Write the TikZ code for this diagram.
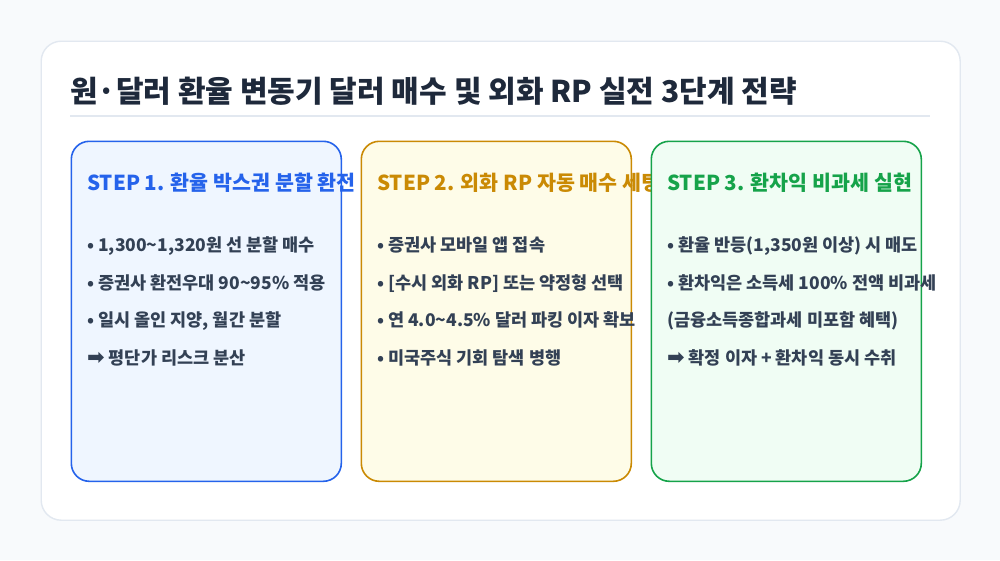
\documentclass[tikz,border=0pt]{standalone}
\usepackage{fontspec}
\setmainfont{Noto Sans CJK KR}
\newfontfamily\arrowfont{DejaVu Sans}
\newcommand{\rarr}{{\arrowfont\fontsize{21}{22}\selectfont ➡}}
\definecolor{bgc}{HTML}{F8FAFC}
\definecolor{cardline}{HTML}{E2E8F0}
\definecolor{titlec}{HTML}{1E293B}
\definecolor{itemc}{HTML}{334155}
\definecolor{bluec}{HTML}{2563EB}
\definecolor{bluef}{HTML}{EFF6FF}
\definecolor{yelc}{HTML}{CA8A04}
\definecolor{yelf}{HTML}{FEFCE8}
\definecolor{grnc}{HTML}{16A34A}
\definecolor{grnf}{HTML}{F0FDF4}
\begin{document}
\begin{tikzpicture}[x=1pt,y=-1pt,
  stepbox/.style={draw=#1, line width=1.6pt, rounded corners=18pt, minimum width=270pt, minimum height=340pt, inner sep=0pt, anchor=north west},
  steptitle/.style={text=#1, font=\fontsize{20.6}{24}\selectfont\bfseries, anchor=base west, inner sep=0pt},
  item/.style={text=itemc, font=\fontsize{17.5}{20}\selectfont\bfseries, anchor=base west, inner sep=0pt}]
\useasboundingbox (0,0) rectangle (1000,560);
\fill[bgc] (0,0) rectangle (1000,560);
\node[draw=cardline, fill=white, line width=1.4pt, rounded corners=20pt, minimum width=919pt, minimum height=479pt, inner sep=0pt, anchor=north west] (card) at (40.5,40.5) {};
\node[text=titlec, font=\fontsize{30}{34}\selectfont\bfseries, anchor=base west, inner sep=0pt] (title) at (70,102.5) {원·달러 환율 변동기 달러 매수 및 외화 RP 실전 3단계 전략};
\coordinate (dl) at (70,115.5);
\coordinate (dr) at (930,115.5);
\draw[cardline, line width=2pt] (dl) -- (dr);
% box 1
\node[stepbox=bluec, fill=bluef] (b1) at (70.5,140.5) {};
\node[steptitle=bluec] (t1) at (87,190.5) {STEP 1. 환율 박스권 분할 환전};
\node[item] (i11) at (87,251.5) {• 1,300\char"7E 1,320원 선 분할 매수};
\node[item] (i12) at (87,289) {• 증권사 환전우대 90\char"7E 95\% 적용};
\node[item] (i13) at (87,326.5) {• 일시 올인 지양, 월간 분할};
\node[item] (i14) at (87,364.5) {\rarr\ 평단가 리스크 분산};
% box 2
\node[stepbox=yelc, fill=yelf] (b2) at (360.5,140.5) {};
\node[steptitle=yelc] (t2) at (377,190.5) {STEP 2. 외화 RP 자동 매수 세팅};
\node[item] (i21) at (377,251.5) {• 증권사 모바일 앱 접속};
\node[item] (i22) at (377,289) {• [수시 외화 RP] 또는 약정형 선택};
\node[item] (i23) at (377,326.5) {• 연 4.0\char"7E 4.5\% 달러 파킹 이자 확보};
\node[item] (i24) at (377,364.5) {• 미국주식 기회 탐색 병행};
% box 3
\node[stepbox=grnc, fill=grnf] (b3) at (650.5,140.5) {};
\node[steptitle=grnc] (t3) at (667,190.5) {STEP 3. 환차익 비과세 실현};
\node[item] (i31) at (667,251.5) {• 환율 반등(1,350원 이상) 시 매도};
\node[item] (i32) at (667,289) {• 환차익은 소득세 100\% 전액 비과세};
\node[item] (i33) at (667,326.5) {(금융소득종합과세 미포함 혜택)};
\node[item] (i34) at (667,364.5) {\rarr\ 확정 이자 + 환차익 동시 수취};
\end{tikzpicture}
\end{document}
